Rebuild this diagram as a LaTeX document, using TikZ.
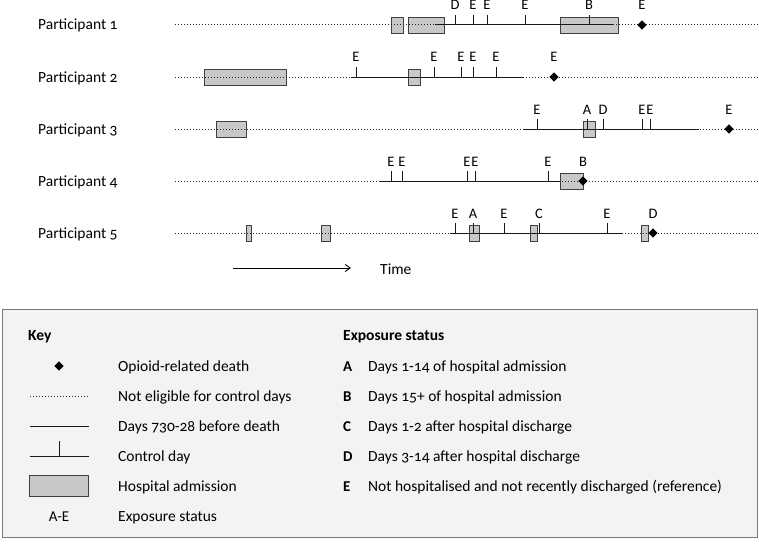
\documentclass[tikz,border=0pt]{standalone}
\usepackage{fontspec}
\setmainfont{Carlito}[Numbers=OldStyle]
\usetikzlibrary{arrows.meta,shapes.geometric}

\definecolor{boxgray}{RGB}{200,200,200}
\definecolor{keybg}{RGB}{243,243,243}
\definecolor{keyline}{RGB}{120,120,120}

\begin{document}
\begin{tikzpicture}[
    x=1pt, y=-1pt,
    axis/.style={line width=1pt, black!90},
    noneligible/.style={line width=1pt, dash pattern=on 1pt off 2pt, black!85},
    admission/.style={draw=black!75, fill=boxgray, line width=0.9pt},
    death/.style={diamond, fill=black, inner sep=0pt, minimum width=9.5pt, minimum height=9.5pt},
    status/.style={font=\fontsize{14.5}{16}\selectfont, inner sep=0pt, anchor=base},
    lbl/.style={font=\fontsize{15.5}{18}\selectfont, inner sep=0pt, anchor=base west},
    keybox/.style={draw=keyline, fill=keybg, line width=0.9pt}
  ]
    \useasboundingbox (0,0) rectangle (759,543);

    % hospital admissions (drawn first, lines run over them)
    \foreach \y/\boxes in {25/{391/403,408/444,560/618}, 77/{204/286,408/420},
        129/{216/246,583/595}, 181/{560/583}, 233/{246/251,321/330,469/479,530/537,641/648}} {
      \foreach \xa/\xb in \boxes
        \draw[admission] (\xa,{\y-8}) rectangle (\xb,{\y+8});
    }

    % participants
    \foreach \r/\y/\sa/\sb/\dx/\dl/\ticks in {
        1/25/435/613/642/E/{455/D,473/E,487/E,525/E,589/B},
        2/77/351/524/554/E/{356/E,434/E,461/E,473/E,496/E},
        3/129/524/699/729/E/{537/E,587/A,603/D,642/E,650/E},
        4/181/380/560/583/B/{391/E,402/E,467/E,475/E,548/E},
        5/233/450/623/653/D/{455/E,473/A,504/E,539/C,607/E}} {
      \node[lbl] (part\r) at (38,{\y+5}) {Participant \r};
      \coordinate (r\r-a) at (175,\y);
      \coordinate (r\r-b) at (759,\y);
      \coordinate (r\r-s) at (\sa,\y);
      \coordinate (r\r-e) at (\sb,\y);
      \draw[noneligible] (r\r-a) -- (r\r-b);
      \draw[axis] (r\r-s) -- (r\r-e);
      \foreach \tx/\lab in \ticks {
        \coordinate (r\r-t\tx) at (\tx,\y);
        \draw[axis] (r\r-t\tx) -- ++(0,-10);
        \node[status] (r\r-l\tx) at (\tx,{\y-15}) {\lab};
      }
      \node[death] (death\r) at (\dx,\y) {};
      \node[status] (deathlbl\r) at (\dx,{\y-15}) {\dl};
    }

    % time arrow
    \coordinate (time-a) at (233,268);
    \coordinate (time-b) at (351,268);
    \draw[line width=0.9pt, -{Straight Barb[length=5pt, width=7pt]}] (time-a) -- (time-b);
    \node[lbl] (time) at (380,274) {Time};

    % key
    \draw[keybox] (2,309) rectangle (757,537);
    \node[lbl, font=\fontsize{15.5}{18}\selectfont\bfseries] (keyhead) at (28,340) {Key};
    \node[death] (keydeath) at (59,366) {};
    \coordinate (kdot-a) at (30,396);
    \coordinate (kdot-b) at (89,396);
    \draw[noneligible] (kdot-a) -- (kdot-b);
    \coordinate (ksol-a) at (30,426);
    \coordinate (ksol-b) at (89,426);
    \draw[axis] (ksol-a) -- (ksol-b);
    \coordinate (kctl-a) at (30,456);
    \coordinate (kctl-b) at (89,456);
    \coordinate (kctl-t) at (59,456);
    \draw[axis] (kctl-a) -- (kctl-b);
    \draw[axis] (kctl-t) -- ++(0,-15);
    \draw[admission] (29,475) rectangle (88,496);
    \node[status, font=\fontsize{15}{17}\selectfont] (kae) at (59,521) {A-E};

    \foreach \y/\txt in {366/Opioid-related death, 396/Not eligible for control days,
        426/Days 730-28 before death, 456/Control day, 486/Hospital admission,
        516/Exposure status}
      \node[lbl] (key\y) at (118,{\y+5}) {\txt};

    % exposure status
    \node[lbl, font=\fontsize{15.5}{18}\selectfont\bfseries] (exphead) at (343,340) {Exposure status};
    \foreach \y/\l/\txt in {366/A/Days 1-14 of hospital admission,
        396/B/Days 15+ of hospital admission,
        426/C/Days 1-2 after hospital discharge,
        456/D/Days 3-14 after hospital discharge,
        486/E/Not hospitalised and not recently discharged (reference)} {
      \node[lbl, font=\fontsize{15}{18}\selectfont\bfseries] (exp\l) at (343,{\y+5}) {\l};
      \node[lbl] (exptxt\l) at (368,{\y+5}) {\txt};
    }
\end{tikzpicture}
\end{document}
